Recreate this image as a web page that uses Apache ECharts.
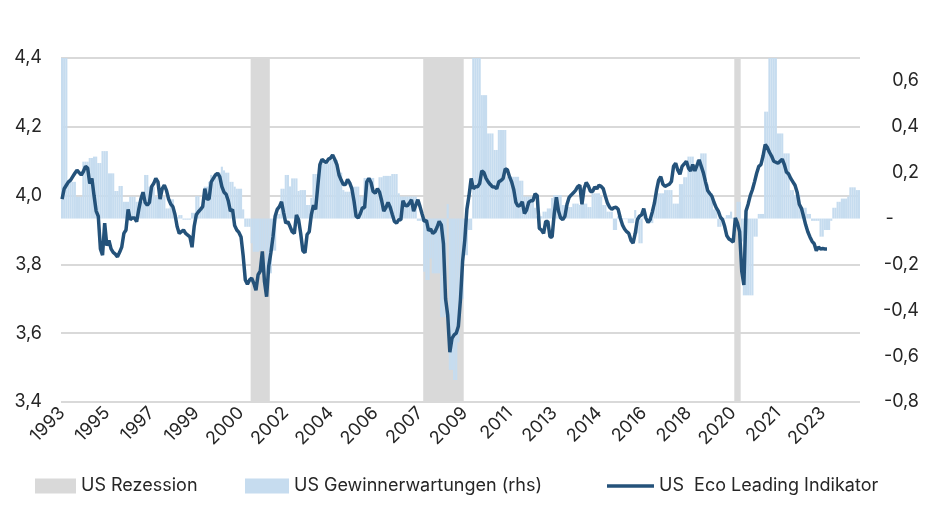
<!DOCTYPE html>
<html><head><meta charset="utf-8">
<script src="https://cdn.jsdelivr.net/npm/echarts@6/dist/echarts.min.js"></script>
<style>html,body{margin:0;padding:0;background:#fff}#c{width:939px;height:505px}</style>
</head><body><div id="c"></div>
<script>
// monthly categories, Oct 1993 .. Dec 2024
const startYear = 1993, startMonth = 10, monthCount = 375;
const categories = [];
for (let k = 0; k < monthCount; k++) {
  const m = startMonth - 1 + k;
  const y = startYear + Math.floor(m / 12);
  const mm = (m % 12) + 1;
  categories.push(y + '-' + (mm < 10 ? '0' + mm : mm));
}
// US recessions (start, end month)
const recessions = [['2001-03', '2001-11'], ['2007-12', '2009-06'], ['2020-02', '2020-04']];
const recessionLevel = 4.4;

// US Gewinnerwartungen (rhs), monthly
const earnings = [
0.75,0.75,0.75,0.16,0.16,0.16,0.16,0.095,0.095,0.095,0.248,0.248,
0.248,0.264,0.264,0.27,0.27,0.242,0.242,0.294,0.294,0.294,0.197,0.197,
0.197,0.12,0.12,0.142,0.142,0.073,0.073,0.073,0.095,0.095,0.095,0.073,
0.073,0.073,0.073,0.19,0.19,0.139,0.139,0.139,0.095,0.095,0.095,0.095,
0.095,0.044,0.044,0.084,0.084,0.005,0.005,0.015,0.015,-0.005,-0.005,-0.005,
-0.005,0.025,0.025,0.098,0.098,0.047,0.047,0.139,0.139,0.16,0.19,0.177,
0.177,0.2,0.2,0.226,0.21,0.2,0.2,0.16,0.16,0.139,0.13,0.13,
0.13,0.04,-0.036,-0.036,-0.036,-0.108,-0.145,-0.145,-0.145,-0.14,-0.14,-0.14,
-0.239,-0.239,-0.239,-0.14,-0.14,0.02,0.02,0.13,0.13,0.19,0.19,0.14,
0.175,0.175,0.175,0.12,0.124,0.124,0.124,0.059,0.059,0.09,0.194,0.194,
0.194,0.24,0.24,0.24,0.24,0.24,0.255,0.255,0.255,0.255,0.2,0.2,
0.124,0.117,0.117,0.117,0.139,0.139,0.139,0.139,0.096,0.096,0.177,0.177,
0.177,0.177,0.177,0.11,0.11,0.18,0.18,0.186,0.186,0.186,0.186,0.194,
0.194,0.194,0.11,0.096,0.096,0.096,0.096,0.096,0.096,0.096,0.096,-0.01,
-0.01,-0.01,-0.232,-0.268,-0.268,-0.174,-0.239,-0.239,-0.239,-0.239,-0.43,-0.43,
-0.43,0.063,-0.66,-0.66,-0.704,-0.704,-0.54,-0.35,-0.35,-0.16,-0.16,-0.05,
-0.05,0.75,0.75,0.75,0.75,0.538,0.538,0.538,0.371,0.371,0.371,0.299,
0.299,0.386,0.386,0.386,0.386,0.182,0.182,0.182,0.182,0.182,0.182,0.165,
0.165,0.096,0.096,0.096,0.096,0.096,0.047,0.01,0.01,0.01,0.03,0.03,
0.044,0.044,0.09,0.102,0.102,0.102,0.102,0.059,0.059,0.059,0.05,0.05,
0.065,0.065,0.065,0.059,0.065,0.065,0.065,0.05,0.05,0.11,0.11,0.11,
0.11,0.096,0.059,0.059,0.03,0.03,0.03,-0.05,-0.05,0.01,0.01,-0.003,
-0.003,-0.003,-0.02,-0.02,-0.02,0.037,-0.065,-0.108,-0.108,0.01,0.01,-0.02,
-0.02,-0.02,0.047,0.11,0.11,0.11,0.11,0.124,0.124,0.124,0.124,0.065,
0.065,0.065,0.15,0.15,0.18,0.18,0.27,0.27,0.27,0.226,0.255,0.255,
0.284,0.284,0.284,0.15,0.11,0.11,0.04,0.04,-0.036,-0.036,0.003,0.003,
0.015,0.015,0.03,0.003,0.003,0.073,0.073,-0.1,-0.335,-0.335,-0.335,-0.335,
-0.335,-0.079,-0.079,0.02,0.02,0.02,0.466,0.466,0.75,0.75,0.75,0.75,
0.371,0.371,0.371,0.284,0.284,0.284,0.124,0.124,0.102,0.102,0.102,0.047,
0.047,0.047,0.02,0.02,-0.01,-0.01,-0.01,-0.01,-0.079,-0.079,-0.05,-0.05,
-0.05,-0.01,0.047,0.047,0.073,0.073,0.087,0.087,0.087,0.096,0.136,0.136,
0.136,0.124,0.124
];

// US Eco Leading Indikator, monthly (ends Sep 2023)
const leading = [
3.99,4.02,4.03,4.04,4.045,4.055,4.065,4.074,4.067,4.06,4.07,4.085,
4.08,4.035,4.05,4.0,3.955,3.94,3.845,3.827,3.92,3.855,3.87,3.845,
3.835,3.83,3.822,3.835,3.85,3.89,3.9,3.96,3.93,3.935,3.935,3.924,
3.96,3.99,4.01,3.98,3.972,3.98,4.026,4.035,4.05,4.04,3.99,4.02,
4.03,4.015,3.99,3.975,3.968,3.945,3.91,3.89,3.895,3.9,3.89,3.885,
3.88,3.85,3.91,3.944,3.953,3.96,3.968,4.02,3.99,3.99,4.04,4.05,
4.06,4.065,4.055,4.026,4.01,4.004,3.985,3.955,3.96,3.913,3.9,3.893,
3.88,3.825,3.755,3.742,3.755,3.76,3.745,3.725,3.77,3.78,3.838,3.75,
3.706,3.795,3.834,3.88,3.94,3.96,3.968,3.982,3.95,3.92,3.924,3.91,
3.895,3.89,3.944,3.93,3.89,3.84,3.834,3.887,3.895,3.945,3.972,3.96,
4.026,4.09,4.105,4.1,4.096,4.106,4.109,4.118,4.105,4.09,4.06,4.045,
4.032,4.032,4.047,4.037,4.02,3.985,3.94,3.935,3.948,3.965,3.965,4.04,
4.05,4.038,4.012,4.007,4.02,4.01,3.985,3.955,3.965,3.98,3.966,3.945,
3.925,3.92,3.93,3.93,3.985,3.972,3.97,3.978,3.988,3.955,3.972,3.988,
3.968,3.946,3.925,3.928,3.898,3.903,3.89,3.895,3.908,3.925,3.915,3.86,
3.7,3.652,3.545,3.585,3.595,3.6,3.62,3.7,3.81,3.87,3.96,4.0,
4.05,4.02,4.026,4.026,4.035,4.072,4.067,4.05,4.04,4.032,4.026,4.025,
4.02,4.04,4.044,4.05,4.078,4.075,4.055,4.04,4.017,3.98,3.969,3.972,
3.982,3.948,3.958,3.98,3.985,3.985,4.005,4.0,3.905,3.9,3.89,3.925,
3.925,3.88,3.88,3.948,3.995,3.955,3.935,3.93,3.94,3.975,3.995,4.002,
4.008,4.015,4.026,4.03,3.975,4.02,4.038,4.028,4.012,4.012,4.025,4.02,
4.03,4.027,4.02,3.998,3.978,3.966,3.96,3.965,3.966,3.96,3.935,3.915,
3.903,3.895,3.89,3.87,3.862,3.89,3.93,3.94,3.944,3.962,3.935,3.922,
3.93,3.952,3.978,4.015,4.045,4.055,4.033,4.027,4.03,4.033,4.041,4.085,
4.094,4.074,4.062,4.085,4.092,4.1,4.08,4.072,4.09,4.072,4.088,4.104,
4.085,4.066,4.04,4.015,4.006,3.998,3.98,3.965,3.955,3.937,3.93,3.91,
3.883,3.874,3.87,3.865,3.935,3.92,3.895,3.78,3.74,3.955,3.975,4.0,
4.017,4.04,4.065,4.085,4.09,4.115,4.148,4.14,4.126,4.115,4.1,4.097,
4.094,4.1,4.106,4.09,4.068,4.063,4.05,4.04,4.03,4.01,3.975,3.963,
3.94,3.915,3.895,3.88,3.867,3.86,3.84,3.85,3.845,3.846,3.845,3.845
];

const leftTicks = {min: 3.4, max: 4.4, interval: 0.2};
const rightTicks = {min: -0.8, max: 0.7, interval: 0.2};

// recession periods as [startIndex, endIndex, top level]
const recessionData = recessions.map(r =>
  [categories.indexOf(r[0]), categories.indexOf(r[1]), recessionLevel]);

const FONT = 'Inter';
const TXT = '#262626';
const LINE = '#24527a';
const GRAY = '#d9d9d9';
const fmt = v => v.toFixed(1).replace('.', ',');

const chart = echarts.init(document.getElementById('c'), null, {renderer: 'canvas'});
chart.setOption({
  animation: false,
  textStyle: {fontFamily: FONT},
  grid: {left: 61, right: 79, top: 58, bottom: 103},
  legend: [
    {data: ['US Rezession'], left: 30, top: 472, icon: 'rect', itemWidth: 41, itemHeight: 15,
     itemStyle: {color: GRAY},
     textStyle: {fontSize: 18, color: TXT, fontFamily: FONT}},
    {data: ['US Gewinnerwartungen (rhs)'], left: 240, top: 472, icon: 'rect', itemWidth: 44, itemHeight: 15,
     textStyle: {fontSize: 18, color: TXT, fontFamily: FONT}},
    {data: [{name: 'US  Eco Leading Indikator', icon: 'rect'}], left: 602, top: 472, itemWidth: 47, itemHeight: 3.5,
     itemStyle: {color: LINE, borderWidth: 0}, lineStyle: {width: 0},
     textStyle: {fontSize: 18, color: TXT, fontFamily: FONT}}
  ],
  xAxis: {
    type: 'category', data: categories, boundaryGap: true,
    axisLine: {show: false}, axisTick: {show: false}, splitLine: {show: false},
    axisLabel: {interval: 20, rotate: 45, fontSize: 18, color: TXT, fontFamily: FONT, margin: 8,
      formatter: v => v.slice(0, 4)}
  },
  yAxis: [
    {type: 'value', position: 'left', min: leftTicks.min, max: leftTicks.max, interval: leftTicks.interval,
     axisLine: {show: false}, axisTick: {show: false},
     splitLine: {show: true, lineStyle: {color: GRAY, width: 2}},
     axisLabel: {fontSize: 18, color: TXT, fontFamily: FONT, margin: 19, formatter: v => fmt(v)}},
    {type: 'value', position: 'right', min: rightTicks.min, max: rightTicks.max, interval: rightTicks.interval,
     axisLine: {show: false}, axisTick: {show: false}, splitLine: {show: false},
     axisLabel: {fontSize: 18, color: TXT, fontFamily: FONT, margin: 59, align: 'right',
       formatter: v => {
         if (v > 0.65) return '';
         if (Math.abs(v) < 1e-9) return '-     ';
         return fmt(v);
       }}}
  ],
  series: [
    {name: 'US Rezession', type: 'custom', yAxisIndex: 0, data: recessionData,
     encode: {x: [0, 1], y: 2}, itemStyle: {color: GRAY}, z: 1, clip: true,
     renderItem: (params, api) => {
       const band = api.size([1, 0])[0];
       const top = api.coord([api.value(0), api.value(2)]);
       const bottom = api.coord([api.value(1), leftTicks.min]);
       return {type: 'rect',
         shape: {x: top[0] - band / 2, y: top[1], width: bottom[0] - top[0] + band, height: bottom[1] - top[1]},
         style: {fill: GRAY}};
     }},
    {name: 'US Gewinnerwartungen (rhs)', type: 'bar', yAxisIndex: 1, data: earnings,
     barCategoryGap: '0%', itemStyle: {color: '#c6dcef'}, clip: true, z: 2},
    {name: 'US  Eco Leading Indikator', type: 'line', yAxisIndex: 0, data: leading,
     symbol: 'none', showSymbol: false, lineStyle: {color: LINE, width: 3.5}, itemStyle: {color: LINE}, z: 5}
  ]
});
</script></body></html>
